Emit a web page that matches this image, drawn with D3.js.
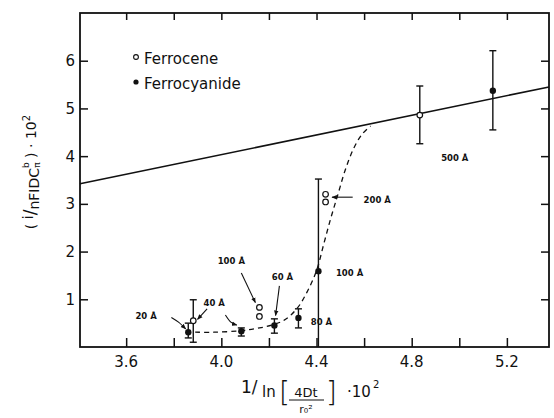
<!DOCTYPE html>
<html>
<head>
<meta charset="utf-8">
<script src="https://cdn.jsdelivr.net/npm/d3@7"></script>
<style>
  body { margin: 0; background: #fff; }
  svg { display: block; }
  text { font-family: "DejaVu Sans", sans-serif; fill: #111; }
  .ann { font-size: 8.5px; font-weight: bold; }
</style>
</head>
<body>
<svg id="chart" width="554" height="418"></svg>
<script>
// Tick values
const xTicks = [3.6, 4.0, 4.4, 4.8, 5.2];
const xMinor = [3.8, 4.2, 4.6, 5.0];
const yTicks = [1, 2, 3, 4, 5, 6];

// Solid straight line (limiting behaviour)
const lineX = [3.406, 5.377];
const lineY = [3.42, 5.45];

// Dashed transition curve
const curveX = [3.89, 3.97, 4.08, 4.15, 4.22, 4.27, 4.32, 4.36, 4.40, 4.43, 4.46, 4.49, 4.52, 4.555, 4.59, 4.627];
const curveY = [0.31, 0.31, 0.34, 0.39, 0.47, 0.58, 0.82, 1.15, 1.6, 2.15, 2.7, 3.2, 3.7, 4.15, 4.45, 4.63];

// Ferrocyanide (filled) points with error bars
const cyanX = [3.861, 4.084, 4.223, 4.324, 4.408, 5.141];
const cyanY = [0.31, 0.33, 0.45, 0.61, 1.59, 5.37];
const cyanLo = [0.19, 0.23, 0.29, 0.40, 0.0, 4.55];
const cyanHi = [0.50, 0.40, 0.59, 0.80, 3.52, 6.21];

// Ferrocene (open) points with error bars (null = no bar)
const ceneX = [3.882, 4.834, 4.16, 4.16, 4.438, 4.438];
const ceneY = [0.55, 4.86, 0.83, 0.64, 3.20, 3.04];
const ceneLo = [0.10, 4.26, null, null, null, null];
const ceneHi = [0.99, 5.47, null, null, null, null];

// Pore-size annotations (label anchor and optional arrows in data units)
const annText = ["20 Å", "40 Å", "100 Å", "60 Å", "80 Å", "100 Å", "200 Å", "500 Å"];
const annX = [3.684, 3.97, 4.042, 4.257, 4.421, 4.539, 4.655, 4.981];
const annY = [0.65, 0.92, 1.80, 1.47, 0.52, 1.55, 3.08, 3.96];
const arrows = [
  [[3.79, 0.62], [3.82, 0.52], [3.85, 0.38]],
  [[3.94, 0.80], [3.90, 0.58]],
  [[4.017, 0.67], [4.04, 0.52], [4.065, 0.46]],
  [[4.084, 1.55], [4.143, 0.93]],
  [[4.244, 1.28], [4.228, 0.66]],
  [[4.552, 3.14], [4.465, 3.14]]
];

const svg = d3.select("#chart");
const pLeft = 80, pRight = 549, pTop = 13, pBottom = 347;

const x = d3.scaleLinear().domain([3.406, 5.377]).range([pLeft, pRight]);
const y = d3.scaleLinear().domain([0, 7]).range([pBottom, pTop]);

// Frame
svg.append("rect")
  .attr("x", pLeft).attr("y", pTop)
  .attr("width", pRight - pLeft).attr("height", pBottom - pTop)
  .attr("fill", "none").attr("stroke", "#111").attr("stroke-width", 1.8);

// Axes with inward ticks
const allX = xTicks.concat(xMinor);
svg.append("g").attr("transform", `translate(0,${pBottom})`)
  .call(d3.axisBottom(x).tickValues(allX).tickSize(-9).tickFormat(""))
  .call(g => g.select(".domain").remove());
svg.append("g").attr("transform", `translate(0,${pTop})`)
  .call(d3.axisTop(x).tickValues(allX).tickSize(-7).tickFormat(""))
  .call(g => g.select(".domain").remove());
svg.append("g").attr("transform", `translate(${pLeft},0)`)
  .call(d3.axisLeft(y).tickValues(yTicks).tickSize(-8).tickFormat(""))
  .call(g => g.select(".domain").remove());
svg.append("g").attr("transform", `translate(${pRight},0)`)
  .call(d3.axisRight(y).tickValues(yTicks).tickSize(-8).tickFormat(""))
  .call(g => g.select(".domain").remove());
svg.selectAll(".tick line").attr("stroke", "#111").attr("stroke-width", 1.5);

// Tick labels
svg.append("g").selectAll("text").data(xTicks).enter().append("text")
  .attr("x", d => x(d)).attr("y", 367)
  .attr("text-anchor", "middle").style("font-size", "15px")
  .text(d => d.toFixed(1));
svg.append("g").selectAll("text").data(yTicks).enter().append("text")
  .attr("x", 75).attr("y", d => y(d) + 5.5)
  .attr("text-anchor", "end").style("font-size", "15px")
  .text(d => d);

// Solid line
svg.append("line")
  .attr("x1", x(lineX[0])).attr("y1", y(lineY[0]))
  .attr("x2", x(lineX[1])).attr("y2", y(lineY[1]))
  .attr("stroke", "#111").attr("stroke-width", 1.6);

// Dashed curve
const curve = d3.line().x(d => x(d[0])).y(d => y(d[1])).curve(d3.curveCatmullRom);
svg.append("path")
  .datum(curveX.map((v, i) => [v, curveY[i]]))
  .attr("d", curve)
  .attr("fill", "none").attr("stroke", "#111")
  .attr("stroke-width", 1.3).attr("stroke-dasharray", "5,4");

// Error bars
function errBars(xs, lo, hi) {
  const g = svg.append("g").attr("stroke", "#111").attr("stroke-width", 1.4);
  xs.forEach((v, i) => {
    if (lo[i] === null) return;
    g.append("line").attr("x1", x(v)).attr("x2", x(v))
      .attr("y1", y(lo[i])).attr("y2", y(hi[i]));
    g.append("line").attr("x1", x(v) - 3.5).attr("x2", x(v) + 3.5)
      .attr("y1", y(hi[i])).attr("y2", y(hi[i]));
    if (lo[i] > 0) {
      g.append("line").attr("x1", x(v) - 3.5).attr("x2", x(v) + 3.5)
        .attr("y1", y(lo[i])).attr("y2", y(lo[i]));
    }
  });
}
errBars(cyanX, cyanLo, cyanHi);
errBars(ceneX, ceneLo, ceneHi);

// Markers
svg.append("g").selectAll("circle").data(cyanX).enter().append("circle")
  .attr("cx", d => x(d)).attr("cy", (d, i) => y(cyanY[i]))
  .attr("r", 3.2).attr("fill", "#111");
svg.append("g").selectAll("circle").data(ceneX).enter().append("circle")
  .attr("cx", d => x(d)).attr("cy", (d, i) => y(ceneY[i]))
  .attr("r", 2.8).attr("fill", "#fff").attr("stroke", "#111").attr("stroke-width", 1.2);

// Annotations
svg.append("defs").append("marker")
  .attr("id", "head").attr("viewBox", "0 0 10 10")
  .attr("refX", 9).attr("refY", 5)
  .attr("markerWidth", 5).attr("markerHeight", 5)
  .attr("orient", "auto")
  .append("path").attr("d", "M0,1 L10,5 L0,9 Z").attr("fill", "#111");

const arrowLine = d3.line().x(d => x(d[0])).y(d => y(d[1])).curve(d3.curveNatural);
svg.append("g").selectAll("path").data(arrows).enter().append("path")
  .attr("d", arrowLine)
  .attr("fill", "none").attr("stroke", "#111").attr("stroke-width", 1.1)
  .attr("marker-end", "url(#head)");

svg.append("g").selectAll("text").data(annText).enter().append("text")
  .attr("class", "ann")
  .attr("x", (d, i) => x(annX[i])).attr("y", (d, i) => y(annY[i]) + 3)
  .attr("text-anchor", "middle")
  .text(d => d);

// Legend
const legend = svg.append("g").style("font-size", "15px");
legend.append("circle").attr("cx", 136).attr("cy", 57).attr("r", 2.4)
  .attr("fill", "#fff").attr("stroke", "#111").attr("stroke-width", 1.1);
legend.append("text").attr("x", 144).attr("y", 64).text("Ferrocene");
legend.append("circle").attr("cx", 136).attr("cy", 82).attr("r", 2.6).attr("fill", "#111");
legend.append("text").attr("x", 144).attr("y", 89).text("Ferrocyanide");

// Y axis label
const yl = svg.append("text")
  .attr("transform", "translate(36,172) rotate(-90)")
  .attr("text-anchor", "middle").style("font-size", "14px");
yl.append("tspan").text("( ");
yl.append("tspan").attr("dy", -3).text("i");
yl.append("tspan").attr("dy", 3).style("font-size", "17px").text("/");
yl.append("tspan").attr("dy", 3).text("nFIDC");
yl.append("tspan").attr("dy", -10).style("font-size", "9px").text("b");
yl.append("tspan").attr("dx", -5.5).attr("dy", 11).style("font-size", "9px").text("π");
yl.append("tspan").attr("dy", -4).text(" ) · 10");
yl.append("tspan").attr("dy", -6).style("font-size", "10px").text("2");

// X axis label
const xl = svg.append("g").style("font-size", "15px");
xl.append("text").attr("x", 241).attr("y", 393).style("font-size", "17px").text("1/");
xl.append("text").attr("x", 262).attr("y", 397).text("ln");
xl.append("text").attr("x", 279).attr("y", 402).style("font-size", "28px")
  .style("font-weight", "200").text("[");
xl.append("text").attr("x", 306).attr("y", 397).attr("text-anchor", "middle")
  .style("font-size", "13px").text("4Dt");
xl.append("line").attr("x1", 289).attr("x2", 324).attr("y1", 400).attr("y2", 400)
  .attr("stroke", "#111").attr("stroke-width", 1.2);
xl.append("text").attr("x", 306).attr("y", 413).attr("text-anchor", "middle")
  .style("font-size", "11px").text("r₀²");
xl.append("text").attr("x", 326).attr("y", 402).style("font-size", "28px")
  .style("font-weight", "200").text("]");
xl.append("text").attr("x", 347).attr("y", 397).text("·10");
xl.append("text").attr("x", 373).attr("y", 388).style("font-size", "10px").text("2");
</script>
</body>
</html>
